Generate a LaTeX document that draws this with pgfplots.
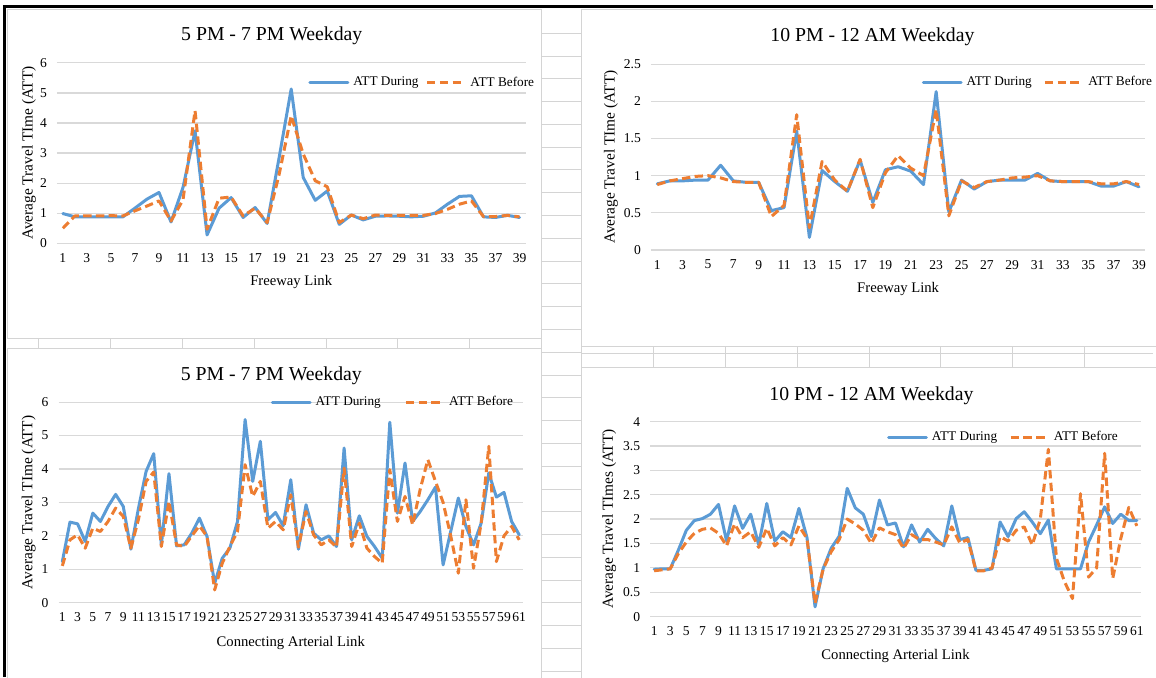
\documentclass[border=0pt]{standalone}
\usepackage{fontspec}
\setmainfont{Liberation Serif}
\usepackage{pgfplots}
\usepackage{pgfplotstable}
\pgfplotsset{compat=1.18}

\definecolor{attblue}{HTML}{5B9BD5}
\definecolor{attorange}{HTML}{ED7D31}
\definecolor{gridgray}{HTML}{D9D9D9}
\definecolor{cellgray}{HTML}{D4D4D4}

% freeway links, 5 PM - 7 PM
\pgfplotstableread{
link during before
1 0.99 0.50
2 0.88 0.91
3 0.88 0.91
4 0.88 0.91
5 0.88 0.92
6 0.88 0.91
7 1.17 1.08
8 1.47 1.24
9 1.69 1.41
10 0.71 0.74
11 1.86 1.45
12 3.74 4.41
13 0.28 0.47
14 1.17 1.50
15 1.52 1.54
16 0.86 0.91
17 1.19 1.17
18 0.66 0.69
19 2.86 2.30
20 5.13 4.24
21 2.19 2.97
22 1.43 2.08
23 1.74 1.88
24 0.63 0.69
25 0.94 0.94
26 0.78 0.82
27 0.90 0.94
28 0.91 0.93
29 0.90 0.93
30 0.88 0.93
31 0.90 0.93
32 1.01 0.99
33 1.30 1.13
34 1.56 1.30
35 1.58 1.41
36 0.88 0.89
37 0.86 0.89
38 0.93 0.93
39 0.86 0.88
}\tabA

% freeway links, 10 PM - 12 AM
\pgfplotstableread{
link during before
1 0.89 0.88
2 0.93 0.93
3 0.93 0.96
4 0.94 0.99
5 0.94 1.00
6 1.14 0.97
7 0.93 0.92
8 0.91 0.91
9 0.91 0.91
10 0.53 0.45
11 0.57 0.60
12 1.60 1.82
13 0.17 0.30
14 1.07 1.19
15 0.92 0.94
16 0.79 0.79
17 1.21 1.22
18 0.64 0.57
19 1.08 1.04
20 1.12 1.27
21 1.06 1.10
22 0.88 1.00
23 2.13 1.89
24 0.51 0.46
25 0.94 0.93
26 0.82 0.84
27 0.92 0.92
28 0.94 0.94
29 0.94 0.97
30 0.94 0.98
31 1.03 1.00
32 0.93 0.93
33 0.92 0.92
34 0.92 0.92
35 0.92 0.92
36 0.86 0.89
37 0.86 0.89
38 0.92 0.92
39 0.85 0.88
}\tabB

% connecting arterial links, 5 PM - 7 PM
\pgfplotstableread{
link during before
1 1.23 1.10
2 2.41 1.88
3 2.36 2.03
4 1.83 1.63
5 2.68 2.23
6 2.43 2.13
7 2.88 2.43
8 3.24 2.83
9 2.88 2.58
10 1.60 1.63
11 2.83 2.50
12 3.93 3.63
13 4.46 3.91
14 1.73 1.68
15 3.86 3.03
16 1.70 1.73
17 1.73 1.68
18 2.08 2.00
19 2.53 2.30
20 1.98 1.98
21 0.58 0.38
22 1.33 1.18
23 1.63 1.68
24 2.43 2.13
25 5.48 4.13
26 3.63 3.18
27 4.83 3.63
28 2.48 2.23
29 2.70 2.43
30 2.30 2.18
31 3.68 3.23
32 1.60 1.66
33 2.93 2.73
34 2.08 2.03
35 1.88 1.73
36 2.00 1.88
37 1.68 1.66
38 4.63 4.03
39 1.88 1.68
40 2.60 2.38
41 1.98 1.63
42 1.68 1.38
43 1.33 1.18
44 5.40 3.98
45 2.68 2.43
46 4.18 3.18
47 2.43 2.33
48 2.73 3.40
49 3.08 4.28
50 3.46 3.63
51 1.13 3.00
52 2.13 2.00
53 3.13 0.88
54 2.28 3.08
55 1.73 1.03
56 2.38 2.38
57 3.88 4.68
58 3.16 1.23
59 3.30 2.00
60 2.43 2.28
61 2.03 1.88
}\tabC

% connecting arterial links, 10 PM - 12 AM
\pgfplotstableread{
link during before
1 0.97 0.94
2 0.98 0.96
3 0.98 0.98
4 1.36 1.29
5 1.77 1.53
6 1.97 1.71
7 2.01 1.79
8 2.10 1.82
9 2.30 1.71
10 1.55 1.45
11 2.27 1.90
12 1.81 1.62
13 2.10 1.74
14 1.47 1.42
15 2.32 1.81
16 1.55 1.45
17 1.74 1.62
18 1.62 1.47
19 2.22 1.86
20 1.62 1.60
21 0.20 0.27
22 0.98 0.97
23 1.40 1.33
24 1.65 1.58
25 2.63 2.00
26 2.23 1.90
27 2.10 1.77
28 1.64 1.50
29 2.39 1.82
30 1.88 1.74
31 1.92 1.68
32 1.43 1.40
33 1.88 1.68
34 1.53 1.58
35 1.79 1.58
36 1.60 1.53
37 1.45 1.47
38 2.27 1.84
39 1.58 1.51
40 1.62 1.58
41 0.95 0.94
42 0.95 0.94
43 0.98 1.00
44 1.94 1.64
45 1.64 1.55
46 2.01 1.77
47 2.15 1.84
48 1.94 1.47
49 1.70 2.00
50 1.98 3.43
51 0.98 1.20
52 0.98 0.72
53 0.98 0.37
54 0.98 2.52
55 1.53 0.81
56 1.88 1.00
57 2.25 3.35
58 1.91 0.78
59 2.10 1.60
60 1.97 2.24
61 1.97 1.86
}\tabD

\pgfplotsset{
  attchart/.style={
    scale only axis,
    anchor=south west,
    xmin=0.5, ymin=0,
    axis line style={draw=none},
    major tick length=0pt,
    ymajorgrids,
    grid style={gridgray, line width=0.6pt},
    tick label style={font=\fontsize{6.8}{8}\selectfont},
    xticklabel style={yshift=-1.5pt},
    yticklabel style={xshift=-1.5pt},
    /pgf/number format/assume math mode=true,
    label style={font=\fontsize{7.35}{9}\selectfont},
    xlabel style={anchor=center},
    ylabel style={anchor=center, font=\fontsize{7.7}{9}\selectfont},
    every axis title shift=0pt,
    title style={font=\fontsize{9.9}{12}\selectfont, anchor=center},
    legend columns=2,
    legend style={draw=none, fill=none, inner sep=0pt, anchor=west,
      font=\fontsize{6.65}{8}\selectfont},
    legend image code/.code={\draw[##1] (0pt,0pt) -- (19pt,0pt);},
  },
  during/.style={attblue, line width=1.5pt, line join=round, line cap=round},
  before/.style={attorange, line width=1.5pt, line join=round,
    dash pattern=on 4.2pt off 2.2pt},
}

\begin{document}
\begin{tikzpicture}
% spreadsheet behind the four charts (pixel grid, y downwards)
\begin{scope}[x=0.5pt, y=-0.5pt]
  \path[use as bounding box] (0,0) rectangle (1156,679);
  \fill[white] (0,0) rectangle (1156,679);
  \foreach \k in {1,...,29} {
    \draw[cellgray, line width=0.5pt] (543,{10.5+22.85*\k}) -- (583,{10.5+22.85*\k});
  }
  \foreach \k in {0,...,7} {
    \draw[cellgray, line width=0.5pt] ({39+72*\k},339) -- ({39+72*\k},349);
  }
  \foreach \k in {0,...,7} {
    \draw[cellgray, line width=0.5pt] ({583+72.1*\k},347) -- ({583+72.1*\k},369);
  }
  \draw[cellgray, line width=0.5pt] (583,354) -- (1156,354);
  \draw[cellgray, line width=0.5pt] (8,10) rectangle (543,339);
  \draw[cellgray, line width=0.5pt] (583,10) rectangle (1160,347);
  \draw[cellgray, line width=0.5pt] (8,349) rectangle (543,682);
  \draw[cellgray, line width=0.5pt] (583,369) rectangle (1160,682);
  \draw[black, line width=1.5pt] (3,7) -- (1156,7);
  \draw[black, line width=1.5pt] (5,7) -- (5,679);
\end{scope}

\begin{axis}[attchart,
  at={(28.5pt,-122pt)}, width=235pt, height=90.5pt,
  xmax=39.5, ymax=6,
  xtick={1,3,...,39}, ytick={0,1,...,6},
  title={5 PM - 7 PM Weekday},
  title style={at={(axis description cs:0.4585,1.149)}},
  xlabel={Freeway Link},
  xlabel style={at={(axis description cs:0.5,-0.215)}},
  ylabel={Average Travel TIme (ATT)},
  ylabel style={at={(axis description cs:-0.0596,0.5)}},
  legend style={at={(0.536,0.889)},
    /tikz/every even column/.append style={column sep=1.5pt}},
]
\addplot[during] table[x=link, y=during] {\tabA};
\addplot[before] table[x=link, y=before] {\tabA};
\legend{ATT During, ATT Before}
\end{axis}

\begin{axis}[attchart,
  at={(326.35pt,-125.35pt)}, width=247.9pt, height=93.2pt,
  xmax=39.5, ymax=2.5,
  xtick={1,3,...,39}, ytick={0,0.5,...,2.5},
  title={10 PM - 12 AM Weekday},
  title style={at={(axis description cs:0.448,1.146)}},
  xlabel={Freeway Link},
  xlabel style={at={(axis description cs:0.5,-0.212)}},
  ylabel={Average Travel TIme (ATT)},
  ylabel style={at={(axis description cs:-0.0807,0.5)}},
  legend style={at={(0.547,0.900)},
    /tikz/every even column/.append style={column sep=3.8pt}},
]
\addplot[during] table[x=link, y=during] {\tabB};
\addplot[before] table[x=link, y=before] {\tabB};
\legend{ATT During, ATT Before}
\end{axis}

\begin{axis}[attchart,
  at={(29.35pt,-302.15pt)}, width=232.9pt, height=100.5pt,
  xmax=61.5, ymax=6,
  xtick={1,3,...,61}, ytick={0,1,...,6},
  title={5 PM - 7 PM Weekday},
  title style={at={(axis description cs:0.458,1.131)}},
  xlabel={Connecting Arterial Link},
  xlabel style={at={(axis description cs:0.5,-0.200)}},
  ylabel={Average Travel TIme (ATT)},
  ylabel style={at={(axis description cs:-0.0644,0.5)}},
  legend style={at={(0.456,0.998)},
    /tikz/every even column/.append style={column sep=9.8pt}},
]
\addplot[during] table[x=link, y=during] {\tabC};
\addplot[before] table[x=link, y=before] {\tabC};
\legend{ATT During, ATT Before}
\end{axis}

\begin{axis}[attchart,
  at={(325.95pt,-309.15pt)}, width=246.05pt, height=97.8pt,
  xmax=61.5, ymax=4,
  xtick={1,3,...,61}, ytick={0,0.5,...,4},
  title={10 PM - 12 AM Weekday},
  title style={at={(axis description cs:0.451,1.132)}},
  xlabel={Connecting Arterial Link},
  xlabel style={at={(axis description cs:0.5,-0.203)}},
  ylabel={Average Travel TImes (ATT)},
  ylabel style={at={(axis description cs:-0.0833,0.5)}},
  legend style={at={(0.482,0.917)},
    /tikz/every even column/.append style={column sep=4pt}},
]
\addplot[during] table[x=link, y=during] {\tabD};
\addplot[before] table[x=link, y=before] {\tabD};
\legend{ATT During, ATT Before}
\end{axis}
\end{tikzpicture}
\end{document}
